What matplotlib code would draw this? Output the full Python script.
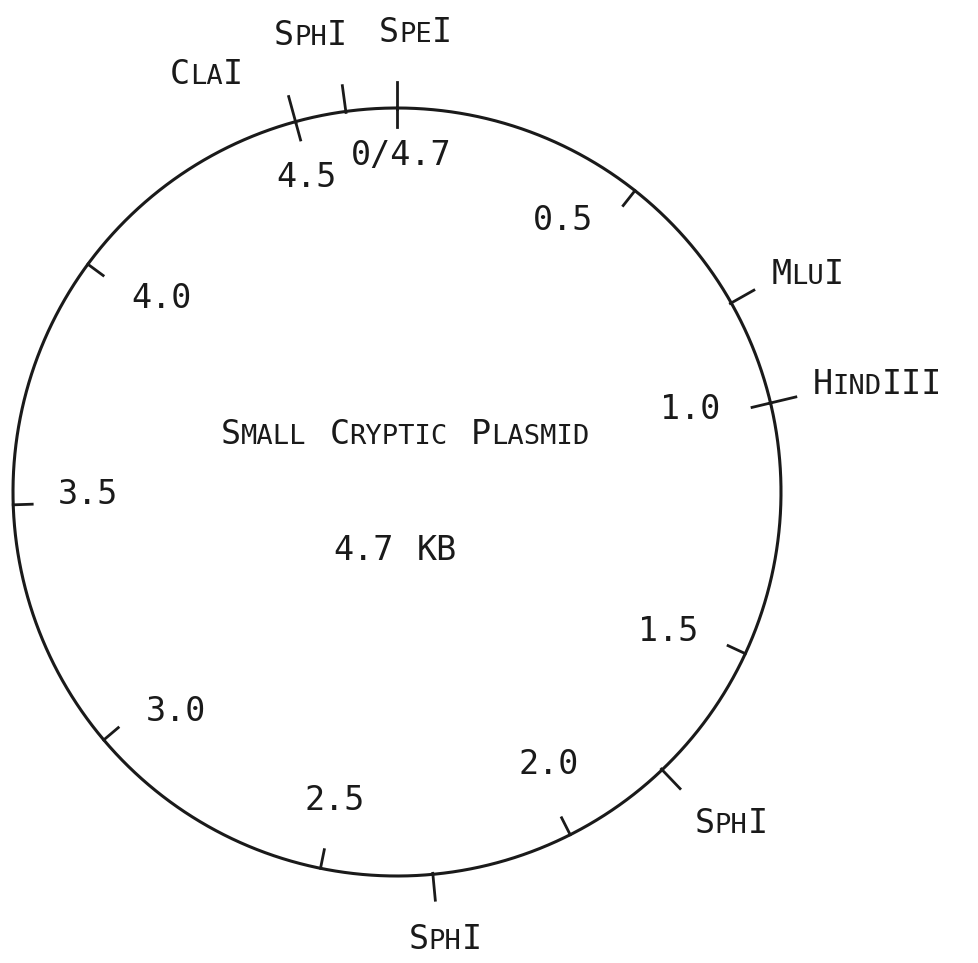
import numpy as np
import matplotlib
matplotlib.use("Agg")
import matplotlib.pyplot as plt
from matplotlib.offsetbox import TextArea, HPacker, AnnotationBbox

# plasmid size and scale marks (kb)
plasmid_kb = 4.7
scale_kb = [0.0, 0.5, 1.0, 1.5, 2.0, 2.5, 3.0, 3.5, 4.0, 4.5]
scale_labels = ["0/4.7", "0.5", "1.0", "1.5", "2.0", "2.5", "3.0", "3.5", "4.0", "4.5"]

# restriction sites (kb)
site_names = ["SpeI", "MluI", "HindIII", "SphI", "SphI", "ClaI", "SphI"]
site_kb = [0.0, 0.79, 1.0, 1.78, 2.28, 4.5, 4.60]

title = "Small Cryptic Plasmid"
size_text = "4.7 KB"

# layout (pixels)
cx, cy, R = 397, 492, 384
scale_lab_r = [337, 318, 305, 305, 312, 315, 311, 309, 305, 327]
scale_lab_nudge = [0.01, -0.09, -0.03, 0.03, -0.03, 0.0, -0.06, 0.02, 0.04, -0.01]
site_lab_r = [460, 465, 492, 471, 450, 459, 465]
site_lab_nudge = [0.03, 0.02, 0.01, -0.02, -0.01, -0.12, -0.04]

BIG, SMALL = 24, 19.5
FONT = "DejaVu Sans Mono"


def pt(kb, r):
    a = kb / plasmid_kb * 2 * np.pi
    return cx + r * np.sin(a), cy - r * np.cos(a)


def small_caps(word):
    # runs of upper / lower case -> big / small capitals
    parts = []
    cur, cur_up = "", None
    for ch in word:
        up = not ch.islower()
        if cur and up != cur_up:
            parts.append((cur, cur_up))
            cur = ""
        cur += ch
        cur_up = up
    if cur:
        parts.append((cur, cur_up))
    boxes = [TextArea(s.upper(), textprops=dict(fontsize=BIG if u else SMALL,
                                                family=FONT, color="#1a1a1a"))
             for s, u in parts]
    return HPacker(children=boxes, align="baseline", pad=0, sep=0)


def place(ax, text, x, y):
    words = [small_caps(w) for w in text.split(" ")]
    box = HPacker(children=words, align="baseline", pad=0, sep=BIG * 0.7)
    ab = AnnotationBbox(box, (x, y), xycoords="data", frameon=False,
                        box_alignment=(0.5, 0.5), pad=0)
    ax.add_artist(ab)


fig = plt.figure(figsize=(9.79, 9.63), dpi=100)
ax = fig.add_axes([0, 0, 1, 1])
ax.set_xlim(0, 979)
ax.set_ylim(963, 0)
ax.axis("off")

t = np.linspace(0, plasmid_kb, 800)
xs, ys = pt(t, R)
ax.plot(xs, ys, color="#1a1a1a", lw=2.2, solid_capstyle="round")

# scale ticks point inward
for kb, lab, lr, dn in zip(scale_kb, scale_labels, scale_lab_r, scale_lab_nudge):
    x0, y0 = pt(kb, R)
    x1, y1 = pt(kb, R - 19)
    ax.plot([x0, x1], [y0, y1], color="#1a1a1a", lw=2.0)
    lx, ly = pt(kb + dn, lr)
    ax.text(lx, ly, lab, fontsize=BIG, family=FONT, color="#1a1a1a",
            ha="center", va="center")

# site ticks point outward
for name, kb, lr, dn in zip(site_names, site_kb, site_lab_r, site_lab_nudge):
    x0, y0 = pt(kb, R - 1)
    x1, y1 = pt(kb, R + 26)
    ax.plot([x0, x1], [y0, y1], color="#1a1a1a", lw=2.0)
    lx, ly = pt(kb + dn, lr)
    place(ax, name, lx, ly)

place(ax, title, 405, 435)
place(ax, size_text, 395, 550)

fig.savefig("out.png", dpi=100, facecolor="white")
